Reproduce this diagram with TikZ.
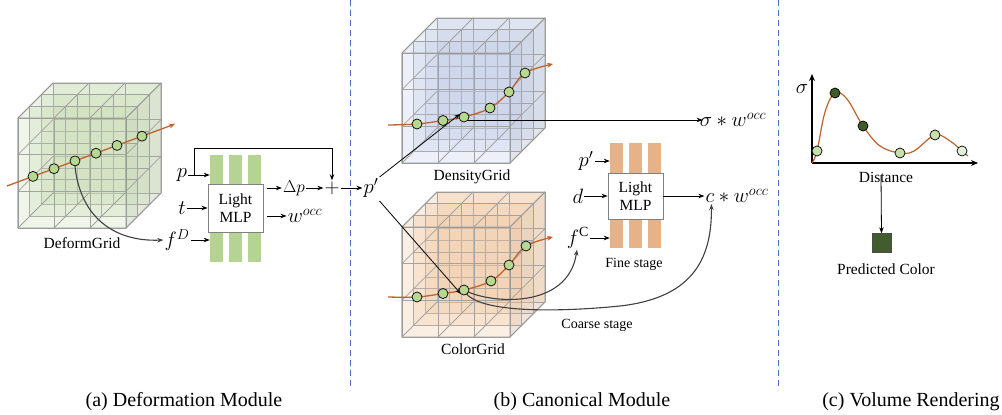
\documentclass[tikz,border=0pt]{standalone}
\usepackage{fontspec}
\setmainfont{Liberation Serif}
\usetikzlibrary{arrows.meta}
\definecolor{rayc}{HTML}{C0622B}
\definecolor{ptc}{HTML}{B9D88F}
\definecolor{dgreen}{HTML}{C3D9AC}
\definecolor{dblue}{HTML}{BCC8E6}
\definecolor{dorange}{HTML}{F0C39A}
\definecolor{gbar}{HTML}{B5D393}
\definecolor{obar}{HTML}{E6B388}
\definecolor{dashc}{HTML}{4A6FC7}
\definecolor{darkpt}{HTML}{3F5B2A}
\definecolor{lightpt}{HTML}{C8E0AA}
\definecolor{palept}{HTML}{E3EFD6}
\definecolor{predc}{HTML}{425C2D}
\newcommand{\gridcube}[3]{%
\begin{scope}[shift={(#1,#2)}]
 \fill[#3, opacity=0.30] (0,0) -- (35,-35) -- (143,-35) -- (108,0) -- cycle;
 \fill[#3!85!black, opacity=0.30] (108,0) -- (143,-35) -- (143,75) -- (108,110) -- cycle;
 \foreach \k in {3,2,1,0}{
   \begin{scope}[shift={({35*\k/3},{-35*\k/3})}]
     \fill[#3, opacity=0.26] (0,0) rectangle (108,110);
     \foreach \i in {0,36,72,108} \draw[gline] (\i,0) -- (\i,110);
     \foreach \j in {0,36.667,73.333,110} \draw[gline] (0,\j) -- (108,\j);
   \end{scope}}
 \foreach \i in {0,36,72,108} {\draw[gline] (\i,0) -- ++(35,-35); \draw[gline] (\i,110) -- ++(35,-35);}
 \foreach \j in {36.667,73.333} {\draw[gline] (0,\j) -- ++(35,-35); \draw[gline] (108,\j) -- ++(35,-35);}
 \draw[draw=black!40, line width=1pt] (0,0) rectangle (108,110) (108,0) -- (143,-35);
 \draw[draw=black!40, line width=1pt, line join=round] (0,110) -- (0,0) -- (35,-35) -- (143,-35) -- (143,75) -- (108,110);
\end{scope}}
\begin{document}
\begin{tikzpicture}[x=1pt,y=-1pt,
  gline/.style={draw=black!36, line width=0.8pt},
  ray/.style={draw=rayc, line width=1.3pt, -{Stealth[length=6pt,width=5pt]}},
  pt/.style={circle, draw=black, fill=ptc, line width=0.7pt, minimum size=10pt, inner sep=0pt},
  arr/.style={-{Stealth[length=6pt,width=4.5pt]}, line width=0.8pt},
  curv/.style={-{Stealth[length=6pt,width=4.5pt]}, draw=black!75, line width=1.1pt},
  txt/.style={font=\fontsize{15.5}{18}\selectfont, inner sep=1pt},
  smalltxt/.style={font=\fontsize{14}{16}\selectfont, inner sep=1pt},
  mth/.style={font=\fontsize{20}{22}\selectfont, inner sep=1pt},
  mthb/.style={font=\fontsize{21}{23}\selectfont, inner sep=1pt},
  captxt/.style={font=\fontsize{20}{22}\selectfont, inner sep=1pt},
  barst/.style={inner sep=0pt, minimum width=13pt},
  mlpbox/.style={draw=black!50, fill=white, line width=0.8pt, minimum width=55pt, align=center, font=\fontsize{15.5}{18}\selectfont, inner sep=0pt},
]
\useasboundingbox (0,0) rectangle (1002,415);
\fill[white] (0,0) rectangle (1002,415);

% dashed separators
\draw[dashc, line width=1pt, dash pattern=on 6pt off 4pt] (350,0) -- (350,390);
\draw[dashc, line width=1pt, dash pattern=on 6pt off 4pt] (778,0) -- (778,390);

% ---------- (a) deformation module ----------
\gridcube{18}{118}{dgreen}
\node[txt] (dglbl) at (82,243) {DeformGrid};
\draw[ray] (7,186) -- (175,124);
\node[pt] (a1) at (33,176.4) {};
\node[pt] (a2) at (54,168.7) {};
\node[pt] (a3) at (75,160.9) {};
\node[pt] (a4) at (96,153.2) {};
\node[pt] (a5) at (117,145.4) {};
\node[pt] (a6) at (142,136.2) {};

\node[barst, fill=gbar, minimum height=107pt] (g1) at (216.5,208.5) {};
\node[barst, fill=gbar, minimum height=107pt] (g2) at (235,208.5) {};
\node[barst, fill=gbar, minimum height=107pt] (g3) at (254,208.5) {};
\node[mlpbox, minimum height=48pt] (mlp1) at (235.5,208) {Light\\MLP};

\node[mth] (p) at (182,175) {$p$};
\node[mth] (t) at (182,208) {$t$};
\node[mth] (fD) at (177,240) {$f^{D}$};
\draw[curv] (a3.south) .. controls (80,215) and (112,242) .. (fD.west);
\draw[arr] (p.east) -- (p.east -| g1.west);
\draw[arr] (t.east) -- (t.east -| mlp1.west);
\draw[arr] (fD.east) -- (fD.east -| g1.west);

\node[mth, font=\fontsize{18.5}{20}\selectfont] (dp) at (294,188) {$\Delta p$};
\node[mth] (plus) at (332,188) {$+$};
\node[mth] (wocc) at (305,216) {$w^{occ}$};
\node[mth] (pp) at (371,188) {$p'$};
\draw[arr] ([xshift=4pt]mlp1.east |- dp.west) -- (dp.west);
\draw[arr] ([xshift=4pt]mlp1.east |- wocc.west) -- (wocc.west);
\draw[arr] (dp.east) -- (plus.west);
\draw[arr] ([xshift=6pt]p.east) -- ++(0,-27) -| (plus.north);
\draw[arr] (plus.east) -- (pp.west);

% ---------- (b) canonical module ----------
\gridcube{402}{53}{dblue}
\node[txt] (dnlbl) at (472,177) {DensityGrid};
\draw[ray] plot[smooth, tension=0.6] coordinates {(388,125) (417,124) (443,120.5) (464,117) (490,108) (509,92) (525,73) (553,64)};

\gridcube{402}{227}{dorange}
\node[txt] (cglbl) at (473,349) {ColorGrid};
\draw[ray] plot[smooth, tension=0.6] coordinates {(388,297) (417,297) (443,293.5) (464,290) (491,281) (509,265) (526,246) (553,237)};

\node[mthb] (sig) at (733,120) {$\sigma * w^{occ}$};
\node[mthb] (cw) at (737,196) {$c * w^{occ}$};

\node[barst, fill=obar, minimum height=105pt] (o1) at (616.5,195.5) {};
\node[barst, fill=obar, minimum height=105pt] (o2) at (635.5,195.5) {};
\node[barst, fill=obar, minimum height=105pt] (o3) at (654.5,195.5) {};
\node[mlpbox, minimum height=46pt] (mlp2) at (635.5,196) {Light\\MLP};
\node[smalltxt] (fine) at (634,264) {Fine stage};
\node[smalltxt] (coarse) at (597,325) {Coarse stage};

\node[mth] (pp2) at (586,161) {$p'$};
\node[mth] (dd) at (578,196) {$d$};
\node[mth] (fC) at (578,238) {$f^{\mathrm{C}}$};
\draw[arr] (pp2.east) -- (pp2.east -| o1.west);
\draw[arr] (dd.east) -- (dd.east -| mlp2.west);
\draw[arr] (fC.east) -- (fC.east -| o1.west);
\draw[arr] (mlp2.east) -- (mlp2.east -| cw.west);

\coordinate (d3c) at (464,117);
\coordinate (c3c) at (464,290);
\draw[arr] ([xshift=4pt,yshift=-3pt]d3c) -- ([xshift=4pt,yshift=-3pt]d3c -| sig.west);
\draw[arr] (pp.north east) -- ([xshift=-4pt,yshift=3pt]d3c);
\draw[arr] ([yshift=-2pt]pp.south east) -- ([xshift=-3pt,yshift=-4pt]c3c);
\draw[curv] (c3c) .. controls (490,304) and (568,310) .. ([xshift=-1pt]fC.south);
\draw[curv] (c3c) .. controls (474,314) and (560,312) .. (620,306) .. controls (690,298) and (712,262) .. ([xshift=7pt]cw.south west);

\node[pt] (d1) at (417,124) {};
\node[pt] (d2) at (443,120.5) {};
\node[pt] (d3) at (d3c) {};
\node[pt] (d4) at (490,108) {};
\node[pt] (d5) at (509,92) {};
\node[pt] (d6) at (525,73) {};
\node[pt] (c1) at (417,297) {};
\node[pt] (c2) at (443,293.5) {};
\node[pt] (c3) at (c3c) {};
\node[pt] (c4) at (491,281) {};
\node[pt] (c5) at (509,265) {};
\node[pt] (c6) at (526,246) {};

% ---------- (c) volume rendering ----------
\coordinate (orig) at (812,163);
\draw[-{Stealth[length=7pt,width=6pt]}, line width=1.6pt] (orig) -- (812,74);
\draw[-{Stealth[length=7pt,width=6pt]}, line width=1.6pt] (orig) -- (978,163);
\node[mth] (sigax) at (802,89) {$\sigma$};
\draw[draw=rayc, line width=1.2pt] plot[smooth, tension=0.6] coordinates {(812,163) (817,151) (825,112) (835,93) (847,99) (863,126) (880,146) (900,153) (914,151) (935,135) (950,141) (962,151) (968,156)};
\node[pt, fill=lightpt] (v1) at (817,151) {};
\node[pt, fill=darkpt] (v2) at (835,93) {};
\node[pt, fill=darkpt] (v3) at (863,126) {};
\node[pt, fill=lightpt] (v4) at (900,153) {};
\node[pt, fill=lightpt] (v5) at (935,135) {};
\node[pt, fill=palept] (v6) at (962,151) {};
\node[txt] (dist) at (886,177) {Distance};
\node[draw=black!70, fill=predc, minimum size=19pt, inner sep=0pt] (sq) at (881.5,243) {};
\node[txt] (pred) at (886,269) {Predicted Color};
\draw[arr] ([xshift=-5pt,yshift=8pt]dist.south) -- (sq.north);

% captions
\node[captxt] (capa) at (184,402) {(a) Deformation Module};
\node[captxt] (capb) at (582,402) {(b) Canonical Module};
\node[captxt] (capc) at (911,402) {(c) Volume Rendering};
\end{tikzpicture}
\end{document}
